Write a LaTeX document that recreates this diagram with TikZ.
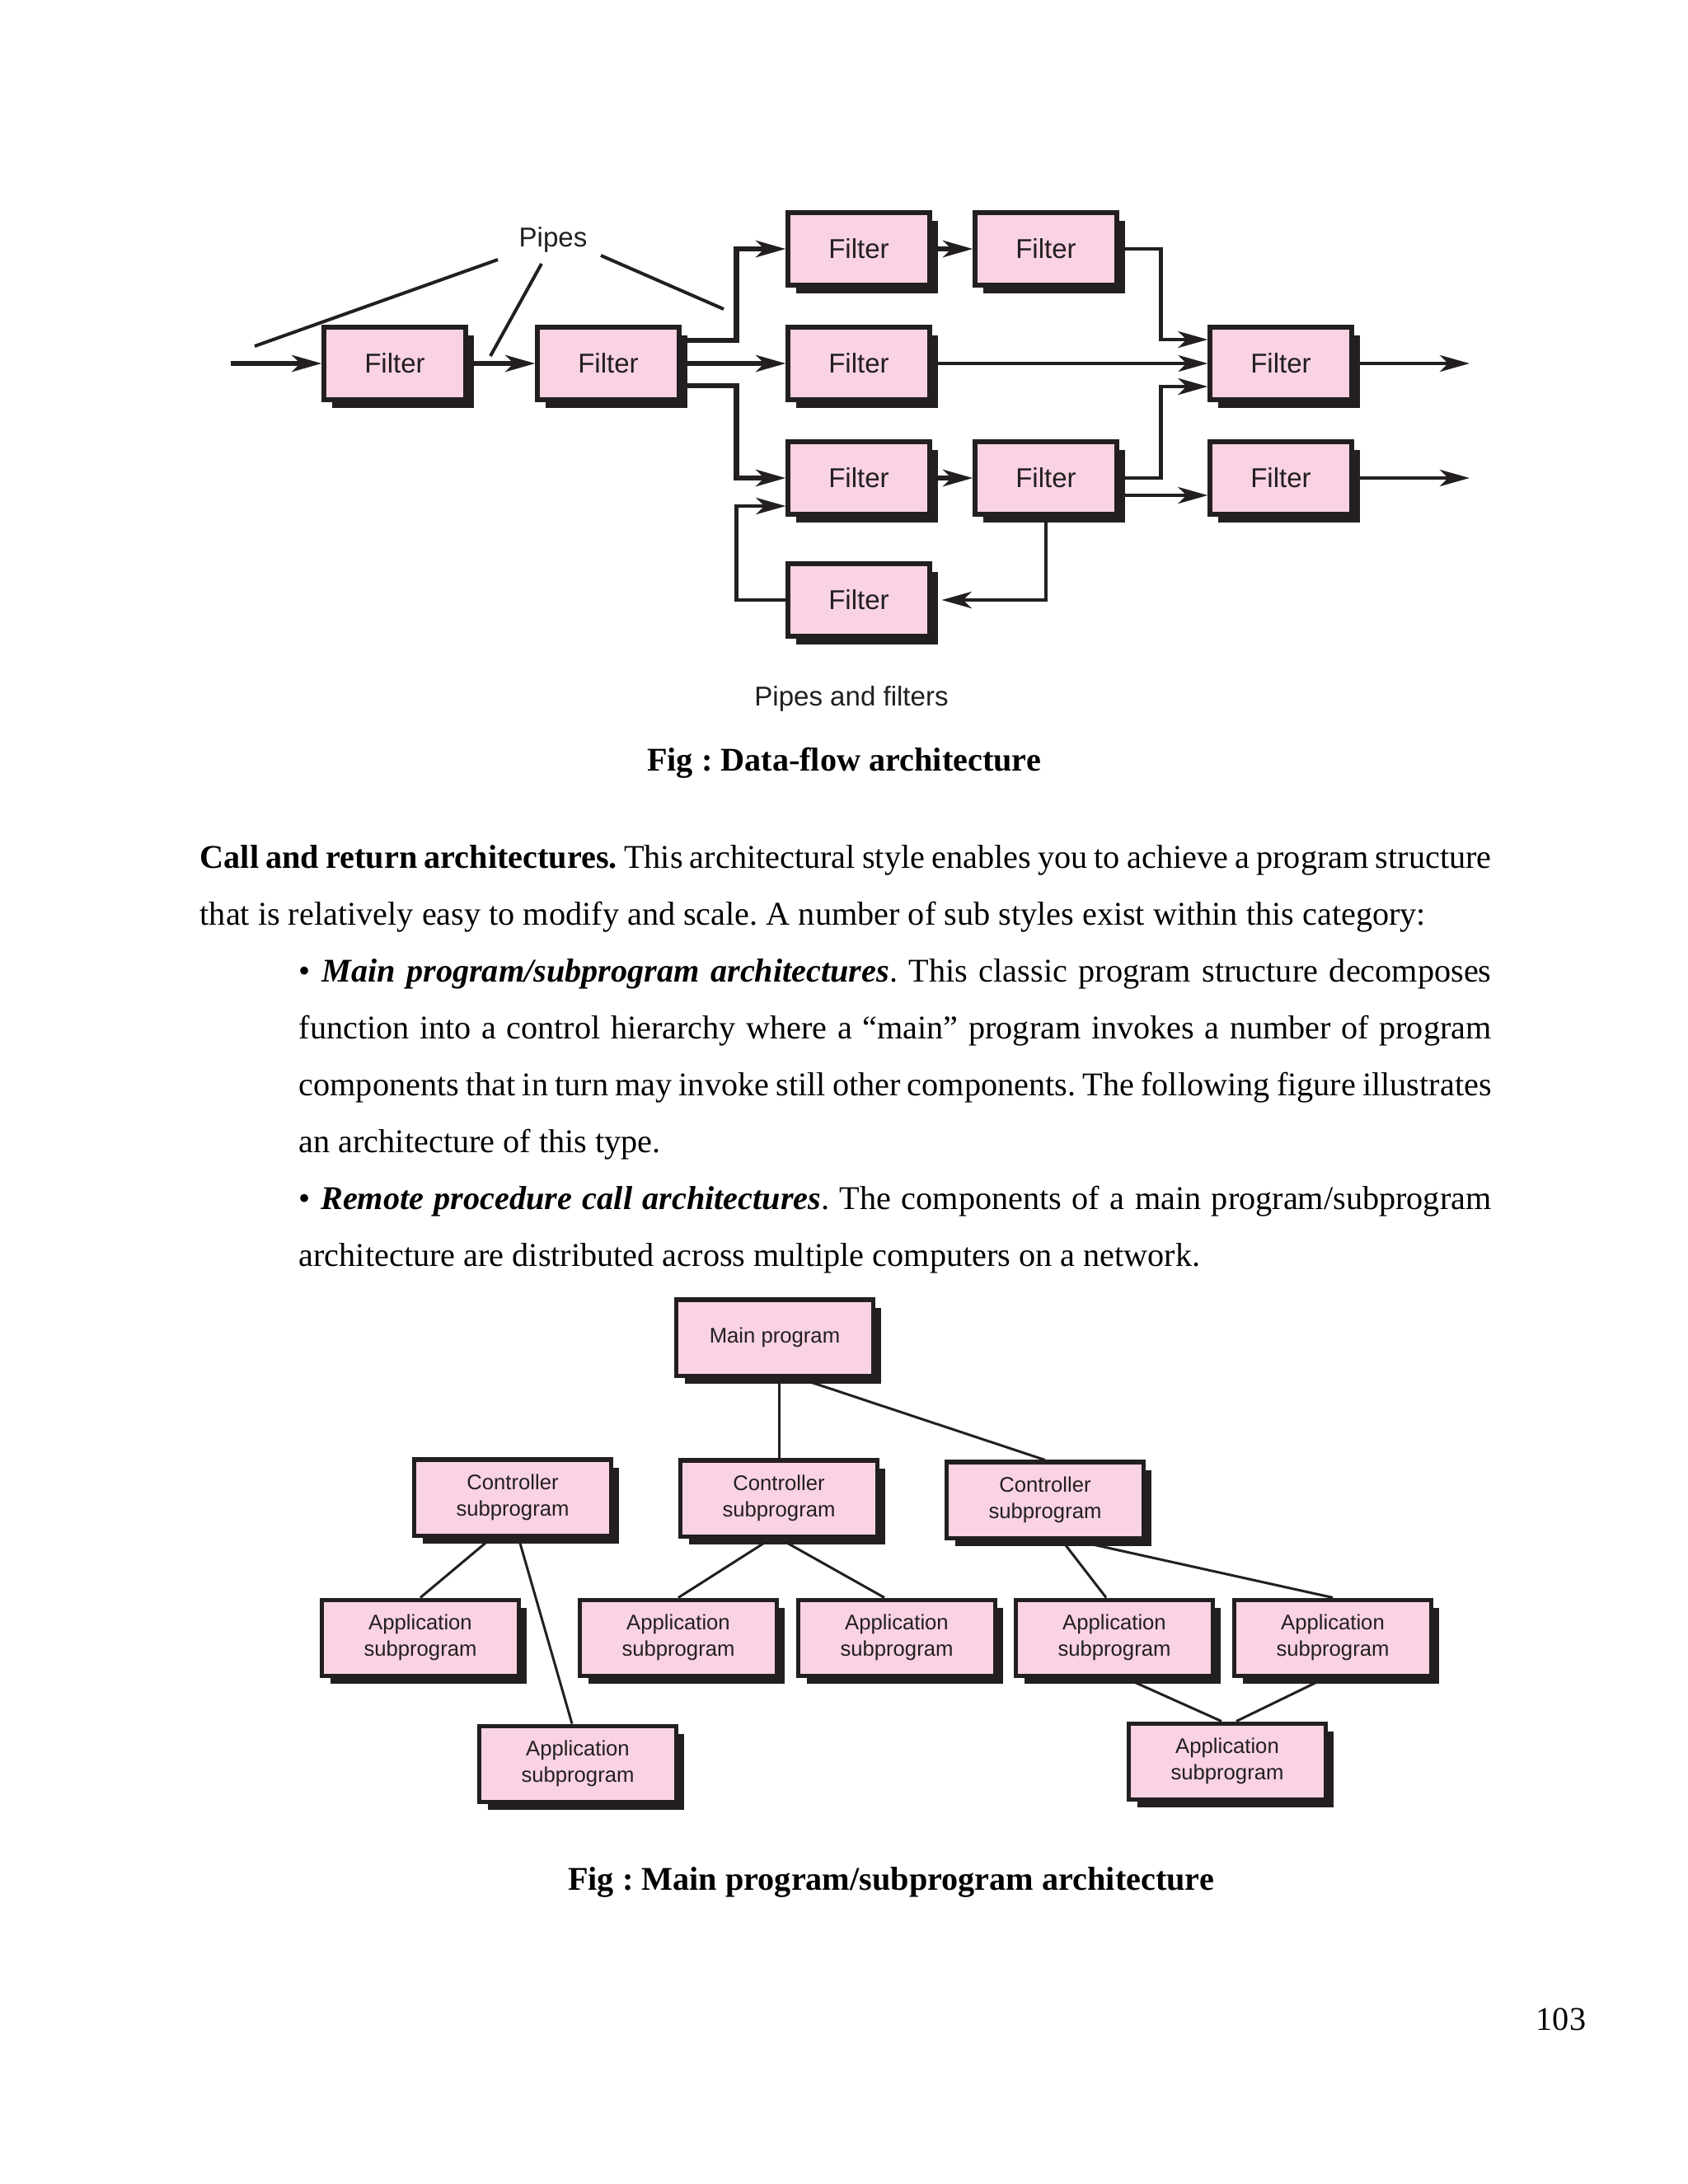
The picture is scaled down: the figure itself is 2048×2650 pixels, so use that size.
\documentclass[tikz,border=0pt]{standalone}
\usepackage{fontspec}
\setmainfont{Liberation Serif}
\newfontfamily\labfont{Liberation Sans}
\usetikzlibrary{arrows.meta,calc,shadows}
\definecolor{boxpink}{RGB}{249,210,227}
\definecolor{ink}{RGB}{35,31,32}
\frenchspacing
\begin{document}
\frenchspacing
\begin{tikzpicture}[x=0.01cm,y=-0.01cm,
  fbox/.style={draw=ink, fill=boxpink, line width=0.06cm, minimum width=1.71cm, minimum height=0.88cm, inner sep=0,
    text=ink, font=\labfont\fontsize{9.4}{11}\selectfont,
    general shadow={fill=ink, shadow xshift=0.1cm, shadow yshift=-0.1cm}},
  abox/.style={draw=ink, fill=boxpink, line width=0.05cm, minimum width=2.38cm, minimum height=0.92cm, inner sep=0,
    text=ink, align=center, font=\labfont\fontsize{7.3}{9.1}\selectfont,
    general shadow={fill=ink, shadow xshift=0.1cm, shadow yshift=-0.1cm}},
  tip/.style={-{Stealth[length=0.36cm, width=0.2cm, inset=0.1cm]}},
  thickpipe/.style={draw=ink, line width=0.065cm, tip},
  medpipe/.style={draw=ink, line width=0.048cm, tip},
  thinpipe/.style={draw=ink, line width=0.04cm, tip},
  pointer/.style={draw=ink, line width=0.04cm},
  link/.style={draw=ink, line width=0.03cm},
  bodytext/.style={anchor=base west, inner sep=0, font=\fontsize{11.44}{13}\selectfont},
  captext/.style={anchor=base, inner sep=0, font=\bfseries\fontsize{11.44}{13}\selectfont}
]
\useasboundingbox (0,0) rectangle (2048,2650);
\fill[white] (0,0) rectangle (2048,2650);

% ---------- Pipes and filters ----------
\node[fbox] (f1) at (479,441) {Filter};
\node[fbox] (f2) at (738,441) {Filter};
\node[fbox] (a1) at (1042,302) {Filter};
\node[fbox] (a2) at (1042,441) {Filter};
\node[fbox] (a3) at (1042,580) {Filter};
\node[fbox] (a4) at (1042,728) {Filter};
\node[fbox] (b1) at (1269,302) {Filter};
\node[fbox] (b3) at (1269,580) {Filter};
\node[fbox] (c2) at (1554,441) {Filter};
\node[fbox] (c3) at (1554,580) {Filter};

\coordinate (in) at (280,441);
\coordinate (out1) at (1783,441);
\coordinate (out2) at (1783,580);

\draw[thickpipe] (in) -- (f1.west);
\draw[thickpipe] (f1.east) -- (f2.west);
\draw[thickpipe] ($(f2.east)+(0,-28)$) -| ($(a1.west)+(-60,0)$) -- (a1.west);
\draw[thickpipe] (f2.east) -- (a2.west);
\draw[thickpipe] ($(f2.east)+(0,27)$) -| ($(a3.west)+(-60,0)$) -- (a3.west);
\draw[thickpipe] (a1.east) -- (b1.west);
\draw[thickpipe] (a3.east) -- (b3.west);
\draw[medpipe] (b1.east) -| ($(c2.west)+(-57,-29)$) -- ($(c2.west)+(0,-29)$);
\draw[thinpipe] (a2.east) -- (c2.west);
\draw[medpipe] (b3.east) -| ($(c2.west)+(-57,28)$) -- ($(c2.west)+(0,28)$);
\draw[medpipe] ($(b3.east)+(0,21)$) -- ($(c3.west)+(0,21)$);
\draw[medpipe] (c2.east) -- (out1);
\draw[medpipe] (c3.east) -- (out2);
\draw[medpipe] (b3.south) |- ($(a4.east)+(12,0)$);
\draw[medpipe] (a4.west) -| ($(a3.west)+(-60,34)$) -- ($(a3.west)+(0,34)$);

\node[inner sep=0, text=ink, font=\labfont\fontsize{9.4}{11}\selectfont] (pipes) at (671,291) {Pipes};
\coordinate (p1a) at (604,315); \coordinate (p1b) at (309,420);
\coordinate (p2a) at (657,320); \coordinate (p2b) at (595,432);
\coordinate (p3a) at (729,310); \coordinate (p3b) at (878,375);
\draw[pointer] (p1a) -- (p1b);
\draw[pointer] (p2a) -- (p2b);
\draw[pointer] (p3a) -- (p3b);

\node[anchor=base, inner sep=0, text=ink, font=\labfont\fontsize{9.4}{11}\selectfont] (cap0) at (1033,856) {Pipes and filters};
\node[captext] (cap1) at (1024,935) {Fig : Data-flow architecture};

% ---------- Body text ----------
\node[bodytext] (t1) at (242,1053) {\makebox[15.66cm][s]{\textbf{Call and return architectures.} This architectural style enables you to achieve a program structure}};
\node[bodytext] (t2) at (242,1122) {that is relatively easy to modify and scale. A number of sub styles exist within this category:};
\node[bodytext] (t3) at (362,1191) {\makebox[14.46cm][s]{• \textbf{\textit{Main program/subprogram architectures}}. This classic program structure decomposes}};
\node[bodytext] (t4) at (362,1260) {\makebox[14.46cm][s]{function into a control hierarchy where a “main” program invokes a number of program}};
\node[bodytext] (t5) at (362,1329) {\makebox[14.46cm][s]{components that in turn may invoke still other components. The following figure illustrates}};
\node[bodytext] (t6) at (362,1398) {an architecture of this type.};
\node[bodytext] (t7) at (362,1467) {\makebox[14.46cm][s]{• \textbf{\textit{Remote procedure call architectures}}. The components of a main program/subprogram}};
\node[bodytext] (t8) at (362,1536) {architecture are distributed across multiple computers on a network.};

% ---------- Main program / subprogram ----------
\node[abox] (main) at (940,1623) {Main program};
\node[abox] (ctl1) at (622,1817) {Controller\\subprogram};
\node[abox] (ctl2) at (945,1818) {Controller\\subprogram};
\node[abox] (ctl3) at (1268,1820) {Controller\\subprogram};
\node[abox] (app1) at (510,1987) {Application\\subprogram};
\node[abox] (app2) at (823,1987) {Application\\subprogram};
\node[abox] (app3) at (1088,1987) {Application\\subprogram};
\node[abox] (app4) at (1352,1987) {Application\\subprogram};
\node[abox] (app5) at (1617,1987) {Application\\subprogram};
\node[abox] (app6) at (701,2140) {Application\\subprogram};
\node[abox] (app7) at (1489,2137) {Application\\subprogram};

\draw[link] (main.south -| ctl2.north) -- (ctl2.north);
\draw[link] ($(main.south)+(27,0)$) -- (ctl3.north);
\draw[link] ($(ctl1.south)+(-25,0)$) -- (app1.north);
\draw[link] ($(ctl1.south)+(7,0)$) -- ($(app6.north)+(-7,0)$);
\draw[link] ($(ctl2.south)+(-9,0)$) -- (app2.north);
\draw[link] ($(ctl2.south)+(0,0)$) -- ($(app3.north)+(-15,0)$);
\draw[link] ($(ctl3.south)+(20,0)$) -- ($(app4.north)+(-10,0)$);
\draw[link] ($(ctl3.south)+(33,0)$) -- (app5.north);
\draw[link] ($(app4.south)+(12,0)$) -- ($(app7.north)+(-7,0)$);
\draw[link] ($(app5.south)+(-8,0)$) -- ($(app7.north)+(11,0)$);

\node[captext] (cap2) at (1081,2293) {Fig : Main program/subprogram architecture};
\node[anchor=base, inner sep=0, font=\fontsize{11.44}{13}\selectfont] (pg) at (1894,2463) {103};
\end{tikzpicture}
\end{document}
